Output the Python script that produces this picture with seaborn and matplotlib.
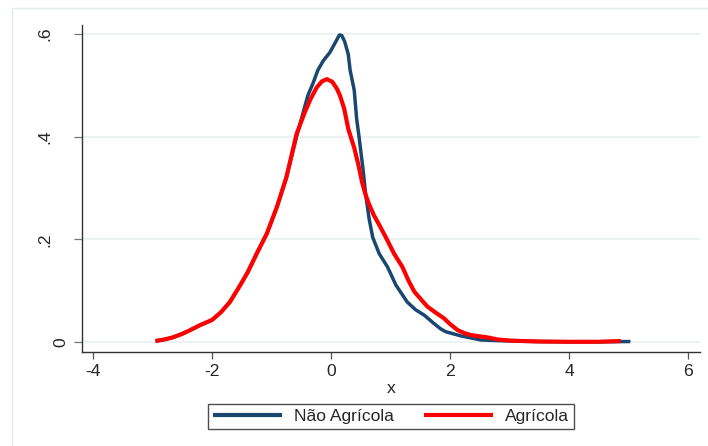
import numpy as np
import pandas as pd
import matplotlib
matplotlib.use("Agg")
import matplotlib.pyplot as plt
import matplotlib.patches as mpatches
from matplotlib.transforms import ScaledTranslation
import seaborn as sns

# ---- data ----
grupos = ["Não Agrícola", "Agrícola"]

x_nao = [-2.95, -2.8, -2.66, -2.5, -2.37, -2.2, -2.0, -1.85, -1.70, -1.53, -1.40, -1.25,
         -1.08, -0.91, -0.75, -0.58, -0.52, -0.45, -0.39, -0.30, -0.22, -0.13, -0.02, 0.07,
         0.14, 0.18, 0.23, 0.29, 0.32, 0.39, 0.43, 0.47, 0.54, 0.58, 0.64, 0.70, 0.81, 0.95,
         1.09, 1.28, 1.42, 1.57, 1.73, 1.85, 1.93, 2.18, 2.35, 2.52, 3.0, 3.5, 4.0, 4.5, 5.03]
y_nao = [0.002, 0.005, 0.009, 0.016, 0.023, 0.033, 0.043, 0.058, 0.078, 0.110, 0.136, 0.172,
         0.211, 0.263, 0.321, 0.400, 0.425, 0.455, 0.480, 0.505, 0.530, 0.548, 0.564, 0.583,
         0.598, 0.597, 0.585, 0.560, 0.530, 0.490, 0.435, 0.400, 0.334, 0.289, 0.240, 0.204,
         0.172, 0.146, 0.111, 0.078, 0.063, 0.052, 0.036, 0.025, 0.020, 0.012, 0.008, 0.004,
         0.002, 0.001, 0.0005, 0.0005, 0.001]

x_agr = [-2.95, -2.8, -2.66, -2.5, -2.37, -2.2, -2.0, -1.85, -1.70, -1.53, -1.40, -1.25,
         -1.08, -0.91, -0.75, -0.58, -0.45, -0.35, -0.24, -0.15, -0.07, 0.02, 0.10, 0.15,
         0.22, 0.29, 0.39, 0.46, 0.52, 0.58, 0.64, 0.72, 0.82, 0.92, 1.06, 1.20, 1.30, 1.40,
         1.52, 1.62, 1.75, 1.90, 2.0, 2.13, 2.25, 2.35, 2.5, 2.63, 2.8, 3.0, 3.2, 3.5, 4.0,
         4.5, 4.87]
y_agr = [0.002, 0.005, 0.009, 0.016, 0.023, 0.033, 0.043, 0.058, 0.078, 0.110, 0.136, 0.172,
         0.211, 0.263, 0.321, 0.405, 0.445, 0.472, 0.496, 0.508, 0.512, 0.507, 0.493, 0.480,
         0.455, 0.415, 0.378, 0.345, 0.312, 0.287, 0.268, 0.247, 0.226, 0.204, 0.172, 0.146,
         0.120, 0.098, 0.082, 0.069, 0.058, 0.046, 0.035, 0.023, 0.017, 0.0136, 0.011, 0.009,
         0.005, 0.003, 0.002, 0.001, 0.0005, 0.0005, 0.002]

x_ticks = [-4, -2, 0, 2, 4, 6]
y_ticks = [0, 0.2, 0.4, 0.6]
y_ticklabels = ["0", ".2", ".4", ".6"]
x_label = "x"

cores = {"Não Agrícola": "#1a476f", "Agrícola": "#ff0000"}
larguras = {"Não Agrícola": 2.5, "Agrícola": 3.0}

df = pd.concat([
    pd.DataFrame({"x": x_nao, "y": y_nao, "grupo": grupos[0]}),
    pd.DataFrame({"x": x_agr, "y": y_agr, "grupo": grupos[1]}),
], ignore_index=True)

# ---- style ----
sns.set_style("white")
plt.rcParams["font.family"] = ["Liberation Sans", "DejaVu Sans"]

W, H = 708, 446
FS = 12.6
fig = plt.figure(figsize=(W / 100, H / 100), dpi=100)
fig.patch.set_facecolor("white")

# outer light frame (Stata graph region)
fig.add_artist(mpatches.Rectangle((12 / W, -0.1), 1.2, 1.1 - 8 / H,
                                  transform=fig.transFigure, fill=False,
                                  edgecolor="#e4ecef", linewidth=1.0))

ax = fig.add_axes([82 / W, 1 - 352 / H, (700 - 82) / W, (352 - 25) / H])

for g in grupos:
    sub = df[df["grupo"] == g]
    sns.lineplot(data=sub, x="x", y="y", ax=ax, color=cores[g],
                 linewidth=larguras[g], estimator=None, sort=False, label=g,
                 solid_capstyle="butt")

ax.set_xlim(-4.185, 6.2)
ax.set_ylim(-0.0194, 0.6175)
ax.set_xticks(x_ticks)
ax.set_xticklabels([str(t) for t in x_ticks])
ax.set_yticks(y_ticks)

ax.grid(axis="y", color="#eaf2f3", linewidth=1.4)
ax.grid(axis="x", visible=False)
ax.set_axisbelow(True)

for s in ["top", "right"]:
    ax.spines[s].set_visible(False)
for s in ["left", "bottom"]:
    ax.spines[s].set_color("#333333")
    ax.spines[s].set_linewidth(1.0)

ax.tick_params(axis="x", length=5, width=0.9, color="#555555", labelsize=FS,
               pad=4, bottom=True)
ax.tick_params(axis="y", length=6, width=0.9, color="#777777", labelsize=FS,
               pad=15, left=True)
ax.set_yticklabels(y_ticklabels, rotation=90, va="center", ha="right",
                   fontsize=FS)

# the "0" label sits further right in the reference
for lab in ax.get_yticklabels():
    if lab.get_text() == "0":
        lab.set_transform(lab.get_transform() +
                          ScaledTranslation(16 / 100, 0, fig.dpi_scale_trans))

ax.set_xlabel(x_label, fontsize=FS, labelpad=1)
ax.set_ylabel("")

if ax.get_legend() is not None:
    ax.get_legend().remove()
handles, labels = ax.get_legend_handles_labels()
leg = fig.legend(handles, labels, loc="center", bbox_to_anchor=(391 / W, 1 - 416.5 / H),
                 ncol=2, fontsize=FS, frameon=True, fancybox=False,
                 edgecolor="#222222", handlelength=3.95, handletextpad=0.7,
                 columnspacing=1.7, borderpad=0.3)
leg.get_frame().set_linewidth(1.0)
for line in leg.get_lines():
    line.set_linewidth(3.0)

fig.savefig("out.png", dpi=100)
